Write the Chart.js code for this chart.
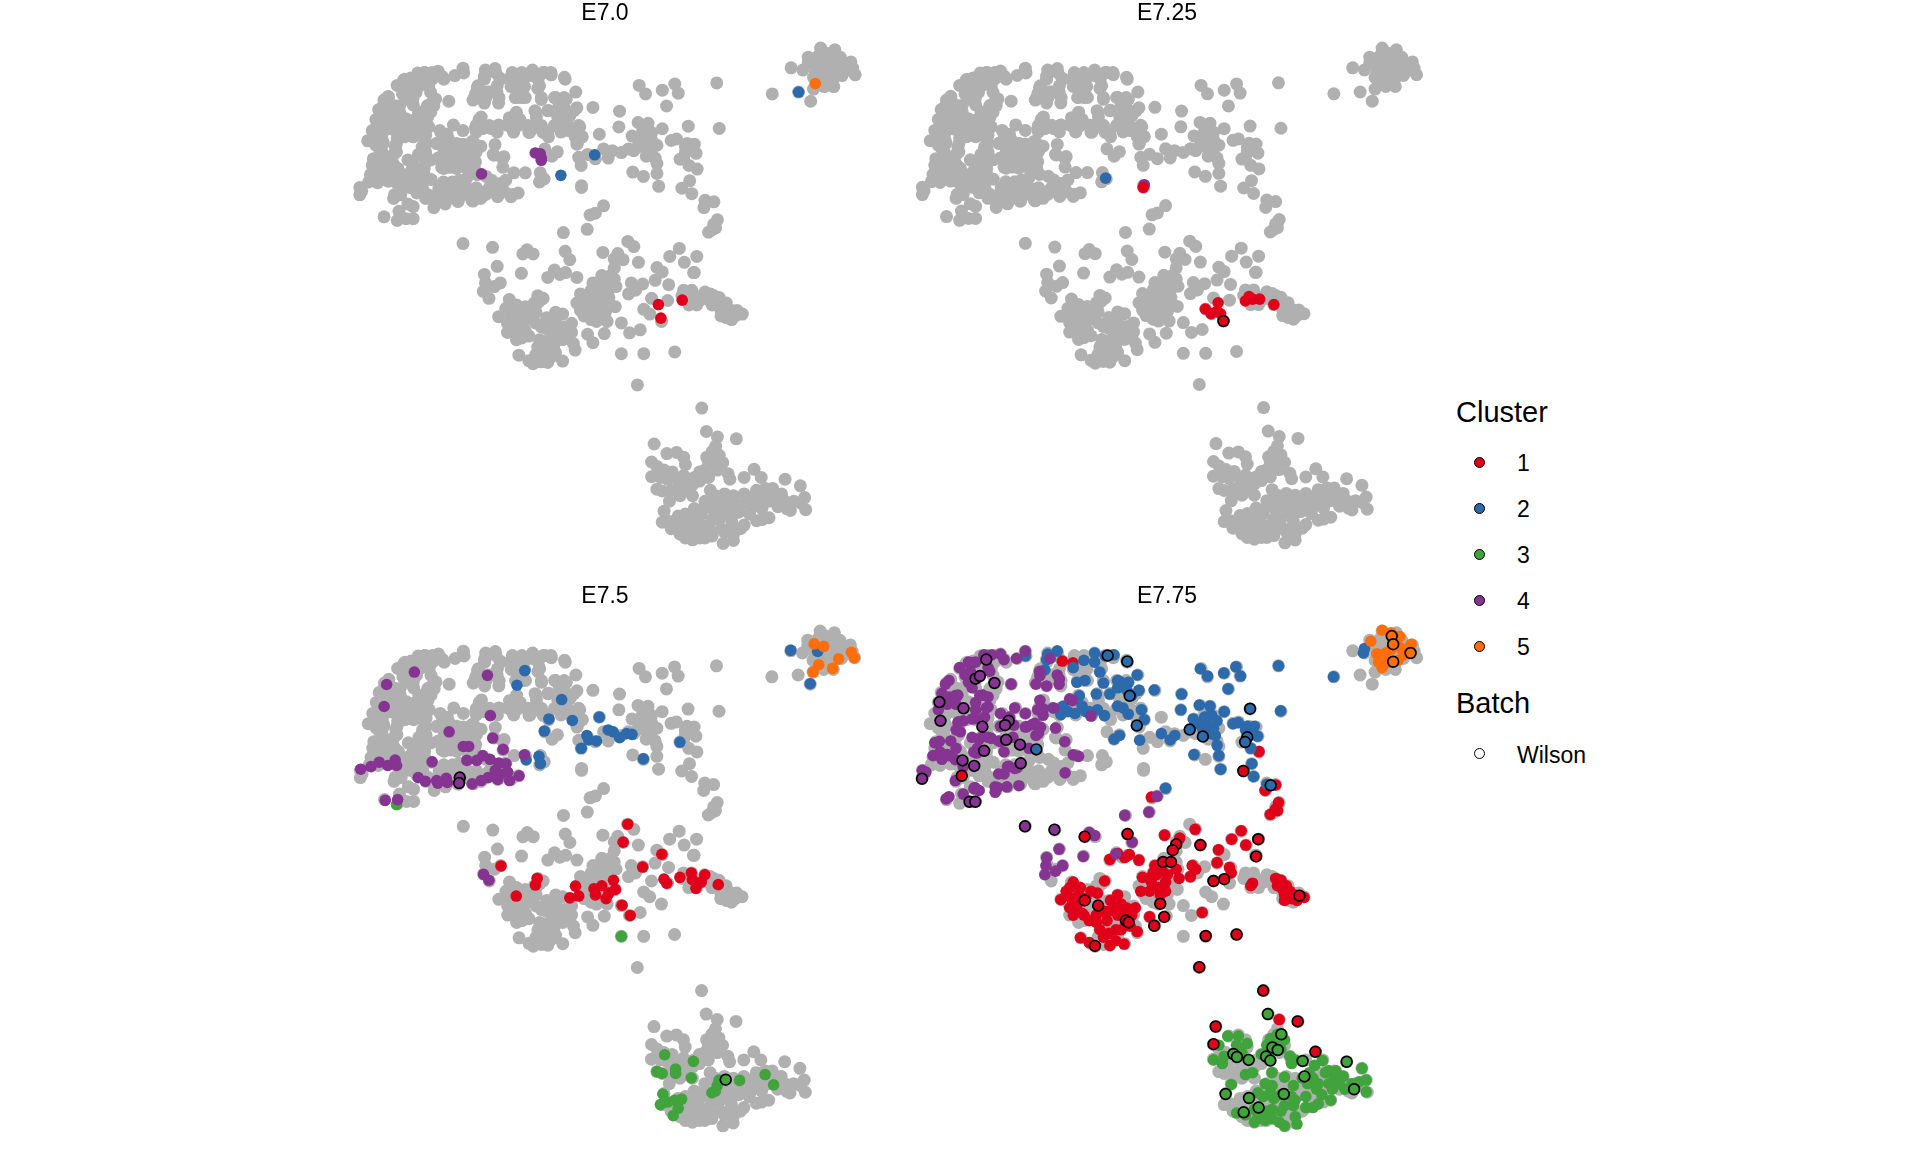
<!DOCTYPE html>
<html>
<head>
<meta charset="utf-8">
<title>Cluster by stage</title>
<script src="https://cdn.jsdelivr.net/npm/chart.js@4"></script>
<style>
  body { margin: 0; background: #fff; }
  #page { position: relative; width: 1920px; height: 1152px; overflow: hidden; font-family: "Liberation Sans", sans-serif; color: #000; }
  canvas { position: absolute; }
  .legendTitle { position: absolute; left: 1456px; font-size: 29px; line-height: 34px; }
  .legendLabel { position: absolute; left: 1517px; font-size: 23px; line-height: 28px; }
  .legendDot { position: absolute; left: 1474px; width: 9px; height: 9px; border: 1.7px solid #000; border-radius: 50%; }
</style>
</head>
<body>
<div id="page"></div>
<script>
//colours
const greyColor = '#b0b0b0'
const clusterColors = ['#e0001a', '#2c6aac', '#40a33c', '#863492', '#ff6e0a']

//legend and panel text
const stages = ['E7.0', 'E7.25', 'E7.5', 'E7.75']
const clusterNames = ['1', '2', '3', '4', '5']
const batchName = 'Wilson'

//all cells, these stay grey in every panel
const allCells = [
  [340,185],[342,198],[317,205],[270,193],[282,208],[232,197],[213,198],[245,206],[193,212],[173,218],[403,190],[430,186],[400,207],[443,212],[473,212],[503,208],[535,190],[565,197],[588,203],[533,205],[625,210],[627,215],
  [155,232],[185,232],[208,226],[235,228],[475,235],[513,235],[380,238],[550,240],[432,248],[657,250],[375,255],[410,250],[510,260],[405,262],[190,255],[170,255],
  [50,510],[50,530],[55,520],[72,383],[90,372],[95,395],[115,385],[105,405],[85,355],[100,345],[95,325],[110,325],[103,298],[125,290],[130,262],[118,272],[135,335],[155,300],[135,350],[150,325],[170,325],[185,340],[205,345],[230,345],[220,325],[240,320],[215,305],[235,300],[245,285],[258,268],[200,285],[185,270],
  [88,432],[105,430],[125,435],[145,447],[120,455],[85,450],[80,475],[100,480],[125,490],[145,480],[170,480],[195,465],[215,465],[190,490],[210,500],[190,510],[170,505],[150,495],[75,495],[100,497],
  [155,375],[175,372],[200,372],[230,375],[150,400],[145,420],[225,400],[215,420],[235,435],[230,455],[200,440],[265,390],[285,395],[300,380],[275,355],[313,340],[340,355],[295,365],[340,392],[365,385],[390,398],[370,410],[375,440],[345,440],[320,440],[295,440],[270,430],[280,455],[305,455],[352,445],[330,490],[310,495],[285,495],[350,485],[380,475],[405,480],[420,490],[440,500],[460,490],[250,488],[270,525],[290,520],[310,525],[340,525],[375,525],[405,520],[430,510],[455,520],[495,525],[475,535],[437,535],[390,540],[365,545],[325,548],[290,555],[258,565],[260,550],[235,540],[210,525],[145,540],[165,530],[200,562],[185,555],[118,590],[155,600],[160,575],[180,595],[200,595],
  [300,275],[368,272],[385,240],[400,280],[440,280],[435,250],[415,250],[490,265],[515,265],[560,270],[600,265],[630,270],[610,285],[580,300],[545,305],[625,295],[660,293],[640,315],[705,292],[385,325],[375,348],[395,350],[420,350],[440,340],[470,320],[490,305],[500,325],[465,340],[482,358],[525,360],[545,345],[565,360],[580,372],[605,335],[615,345],[635,355],[655,372],[668,345],[675,372],[660,392],[723,365],[430,393],[425,420],[452,432],[452,455],[483,470],[515,470],[557,470],[568,487],[555,495],[605,413],[590,425],[570,405],[665,428],[672,450],[673,505],[673,510],[690,420],[712,432],[735,405],[748,430],[760,410],[785,415],[805,405],[815,370],[830,400],[850,370],[870,380],[885,395],[855,425],[845,390],[880,430],[885,445],[885,472],[900,350],[832,333],[860,335],[780,302],[778,345],[835,232],[853,255],[900,245],[935,228],[945,253],[912,288],[1053,225],[1060,349],[973,343],[925,382],[940,378],[970,390],[990,392],[965,415],[995,417],[950,433],[975,450],[998,460],[817,468],[847,480],[890,507],[977,492],[955,512],[983,527],[1020,545],[1045,549],[1017,565],[1055,598],[1050,620],[1030,632],[1040,625],[735,560],[712,580],[697,585],[689,624],[622,633],[340,663],[423,673],
  [520,680],[508,691],[537,691],[627,684],[640,707],[733,687],[775,690],[790,707],[765,705],[803,657],[820,671],[833,714],[921,698],[948,676],[962,714],[997,698],[988,742],[990,742],[885,728],[900,740],[880,763],[918,775],[845,773],[813,770],[825,790],[805,800],[870,812],[915,818],[848,842],[865,855],[898,875],[785,879],[838,898],[808,906],[737,908],[690,910],[705,933],[785,963],[848,963],[935,958],[830,1048],[436,725],[504,744],[400,747],[403,770],[445,770],[428,780],[397,793],[413,812],[578,755],[597,735],[628,742],[612,747],[660,755],[765,730],[755,750],[730,750],[770,780],[748,792],[705,770],[720,790],[695,800],[670,800],[660,825],[685,825],[710,815],[735,825],[768,835],[695,850],[725,855],[745,875],[715,875],[975,800],[983,790],[955,805],[1020,795],[1045,805],[975,830],[997,830],[1030,815],[1055,825],[1080,825],[1065,845],[1085,865],[1105,860],[1125,855],[1110,845],[1080,865],
  [550,805],[565,812],[470,815],[490,830],[515,835],[540,825],[545,850],[460,840],[440,862],[475,860],[465,880],[465,905],[490,925],[500,880],[515,860],[515,900],[525,915],[545,880],[575,865],[600,850],[590,880],[620,855],[645,880],[625,890],[605,895],[575,895],[620,925],[650,935],[655,953],[595,942],[570,930],[550,945],[570,960],[545,965],[590,970],[497,967],[525,982],[537,990],[578,987],[620,983],
  [1011,1111],[1024,1175],[1055,1190],[1108,1195],[877,1209],[913,1235],[940,1232],[960,1245],[965,1265],[1050,1215],[1060,1240],[1025,1245],[1045,1265],[1070,1260],[870,1258],[885,1270],[905,1280],[870,1298],[928,1285],[945,1305],[975,1305],[1005,1285],[1030,1300],[1085,1290],[1090,1305],[1130,1300],[1158,1278],[1178,1300],[1245,1305],[1288,1323],[885,1332],[900,1337],[940,1330],[965,1335],[985,1350],[1035,1335],[1075,1345],[1130,1345],[1165,1335],[1190,1330],[1210,1330],[1235,1345],[1300,1355],[1270,1365],[1225,1380],[1260,1390],[1303,1388],[920,1365],[1020,1365],[1060,1365],[1090,1365],[1130,1370],[1165,1375],[1200,1365],[1200,1410],[1165,1418],[905,1392],[900,1422],[945,1405],[925,1440],[990,1385],[1010,1400],[1045,1390],[1075,1385],[1100,1385],[1130,1430],[1095,1420],[1060,1415],[1090,1440],[1030,1430],[965,1420],[985,1440],[950,1455],[985,1470],[1020,1465],[1040,1460],[1010,1445],[1071,1480],[1100,1472],[1100,1455],[975,1445],[1035,1445],
  [1345,130],[1385,135],[1310,155],[1340,150],[1365,145],[1400,155],[1430,168],[1262,184],[1295,190],[1330,175],[1360,170],[1385,170],[1410,175],[1435,185],[1442,203],[1405,205],[1380,195],[1350,200],[1330,195],[1380,215],[1335,225],[1355,235],[1382,235],[1325,242],[1283,250],[1209,255],[1317,275],
  //upper left, read again from a closer crop
  [231,197],[253,197],[404,197],[432,197],[478,197],[505,197],[537,197],[569,197],[587,197],[176,215],[203,215],[231,215],[253,215],[286,215],[162,233],[189,233],[217,233],[244,233],[185,251],[208,251],[249,251],[130,269],[185,269],[199,269],[263,269],[116,287],[148,287],[162,287],[240,287],[258,287],[112,305],[135,305],[162,305],[221,305],[249,305],[103,323],[130,323],[153,323],[180,323],[208,323],[235,323],[98,345],[125,345],[162,345],[199,345],[221,345],[244,345],[89,368],[112,368],[157,368],[185,368],[208,368],[235,368],[281,368],[116,390],[153,390],[235,390],[267,390],[295,390],[322,390],[372,390],[112,413],[153,413],[235,413],[286,413],[313,413],[340,413],[377,413],[98,435],[139,435],[185,435],[249,435],[276,435],[304,435],[331,435],[359,435],[93,458],[125,458],[157,458],[199,458],[231,458],[286,458],[322,458],[350,458],[372,458],[84,475],[112,475],[139,475],[171,475],[203,475],[231,475],[98,493],[130,493],[162,493],[194,493],[221,493],[167,511],[199,511],[226,511],[272,511],[295,511],[322,511],[350,511],[377,511],[414,511],[446,511],[148,529],[240,529],[267,529],[304,529],[340,529],[377,529],[404,529],[441,529],[478,529],[263,547],[290,547],[327,547],[368,547],
  [400,215],[446,215],[478,215],[510,215],[551,215],[382,233],[436,233],[491,233],[555,233],[510,233],[372,265],[404,265],[441,265],[487,265],[505,265],[560,265],[597,265],[624,265],[542,301],[578,301],[615,301],[652,301],[391,318],[487,318],[546,318],[606,318],[633,318],[377,341],[414,341],[441,341],[468,341],[496,341],[523,341],[560,341],[597,341],[633,341],[665,341],[377,359],[436,359],[482,359],[528,359],[578,359],[615,359],[652,359],[661,390],[674,372],[427,422],[455,426],
  //lower cluster fill
  [720,770],[745,770],[735,800],[750,810],[700,790],[715,840],[740,850],[680,860],[670,845],[700,870],[755,760],[765,760],[475,835],[500,850],[525,860],[490,855],[480,885],[490,905],[510,880],[505,920],[555,925],[590,920],[610,910],[635,910],[560,890],[600,870],[570,950],[600,960],[560,985],[645,905],[555,820],[545,830],[1060,810],[1075,840],[1095,845],[1065,860],[1095,870],[1035,800],[1000,810],[960,790],[1010,815],[1040,830],
  //bottom cluster fill
  [1040,1230],[1030,1260],[1055,1250],[1055,1280],[895,1300],[915,1305],[960,1295],[990,1300],[1015,1300],[1020,1280],[960,1320],[985,1320],[1005,1310],[950,1350],[925,1335],[1045,1365],[1030,1380],[1050,1350],[1075,1365],[1100,1350],[1110,1375],[1140,1355],[1150,1385],[1180,1355],[1210,1350],[1180,1385],[1215,1365],[1245,1365],[1250,1385],[1290,1370],[1115,1395],[1145,1400],[1180,1415],[1085,1400],[1040,1415],[1000,1420],[985,1405],[965,1400],[940,1425],[920,1420],[950,1435],[1005,1465],[1065,1440],[1075,1450],[1120,1440],[965,1465],[1000,1390],[1160,1360],
  //top right and right band fill
  [1375,150],[1350,165],[1375,175],[1395,185],[1420,190],[1360,190],[1345,185],[1320,170],[1360,215],[1400,190],[1345,215],[1365,225],[1325,210],[1310,170],[860,395],[870,405],[835,385],[860,410],[820,410],[870,360],[845,355],[965,400],[985,405],[1045,610],[960,430]
]

//E7.0
const e70Red = [[889,829],[956,817],[896,866]]
const e70Blue = [[710,421],[615,477],[1283,250]]
const e70Green = []
const e70Purple = [[543,416],[557,418],[560,430],[560,436],[392,473]]
const e70Orange = [[1330,227]]

//E7.25
const e725Red = [[672,510],[847,842],[863,855],[883,825],[880,848],[890,855],[960,820],[970,808],[980,815],[1000,815],[1040,830]]
const e725Blue = [[566,485]]
const e725Green = []
const e725Purple = [[675,503]]
const e725Orange = []
const e725WilsonRed = [[898,875]]

//E7.5
const e75Red = [[803,657],[790,706],[899,739],[845,774],[446,771],[548,805],[543,823],[905,807],[913,818],[950,802],[982,790],[985,808],[1020,795],[1010,815],[995,832],[1058,822],[489,853],[656,826],[640,858],[665,853],[708,833],[712,850],[730,825],[763,810],[768,835],[750,845],[742,860],[787,878],[810,906]]
const e75Blue = [[513,238],[491,278],[617,317],[581,370],[647,374],[723,365],[568,403],[688,415],[693,427],[715,430],[748,400],[762,405],[780,421],[800,410],[815,412],[672,450],[950,433],[847,479],[553,472],[517,482],[557,492],[1262,183],[1338,186],[1317,274]]
const e75Green = [[152,604],[785,963],[907,1286],[988,1304],[885,1332],[900,1337],[938,1325],[938,1337],[982,1349],[1118,1356],[1190,1340],[1214,1368],[1060,1355],[1055,1370],[1040,1390],[1050,1385],[902,1393],[895,1422],[915,1415],[935,1410],[955,1407],[945,1432],[931,1452]]
const e75Purple = [[202,242],[124,276],[408,251],[117,336],[416,361],[300,405],[423,422],[452,453],[340,445],[355,445],[512,468],[252,487],[51,507],[80,500],[103,488],[127,497],[148,482],[152,497],[213,530],[233,540],[265,538],[268,545],[292,532],[295,543],[350,483],[378,483],[395,470],[415,480],[440,490],[460,492],[430,510],[445,520],[465,515],[497,525],[470,538],[437,535],[410,530],[390,538],[365,547],[120,592],[155,590],[397,794],[412,810]]
const e75Orange = [[1328,165],[1355,172],[1433,188],[1441,203],[1397,206],[1341,222],[1380,232],[1325,242]]
const e75WilsonPurple = [[330,530],[328,545]]
const e75WilsonGreen = [[1079,1354]]

//E7.75
const e775Red = [[444,212],[474,217],[998,459],[1045,550],[1015,565],[695,583],[1053,598],[1045,615],[1030,630],[1050,620],[818,671],[948,675],[921,698],[961,714],[732,687],[775,695],[884,727],[880,762],[915,775],[920,790],[810,770],[820,780],[805,800],[765,780],[773,805],[740,795],[705,770],[710,795],[670,802],[665,840],[690,840],[715,830],[735,815],[695,815],[578,753],[600,737],[620,748],[633,740],[660,755],[563,812],[475,815],[495,830],[455,840],[440,863],[470,860],[465,885],[475,905],[505,905],[525,840],[543,845],[573,895],[600,850],[580,865],[610,875],[650,885],[625,885],[600,905],[540,925],[570,920],[595,945],[550,945],[575,955],[655,950],[635,935],[495,967],[520,980],[578,988],[618,984],[595,975],[690,910],[838,898],[975,825],[980,818],[1045,805],[1050,825],[1075,825],[1070,850],[1090,860],[1125,857],[1105,865],[1070,865],[1055,1190],
  [490,850],[510,860],[465,830],[485,880],[500,900],[520,920],[540,905],[560,895],[595,890],[620,905],[600,885],[560,965],[610,945],[640,905],[700,790],[725,780],[690,805],[720,850],[735,840],[1060,810],[1085,840],[1100,850],[1065,835]]
const e775Blue = [[340,198],[403,193],[430,185],[400,208],[395,236],[475,230],[505,210],[535,190],[535,215],[550,242],[590,195],[565,198],[485,270],[508,265],[560,272],[600,265],[630,270],[625,290],[655,250],[660,292],[703,291],[492,307],[540,302],[578,302],[600,335],[615,340],[630,357],[667,345],[675,372],[780,302],[778,345],[833,233],[853,253],[899,245],[933,228],[946,253],[911,288],[1053,225],[1059,348],[1208,255],[1292,190],[1295,178],[830,332],[860,335],[900,350],[813,370],[845,365],[865,360],[880,375],[850,385],[865,400],[875,415],[925,383],[940,380],[965,390],[985,390],[994,417],[975,450],[880,442],[885,470],[815,467],[890,507],[978,492],[983,527],[418,340],[447,335],[440,358],[480,355],[500,335],[510,350],[543,345],[563,361],[605,415],[590,425],[662,428],[723,410],[748,427],[761,415],[735,559],[1020,548],
  [830,385],[850,365],[840,400],[860,410],[870,395],[975,405],[960,400],[600,285],[640,305],[610,270],[520,350],[460,350]]
const e775Green = [[910,1235],[940,1235],[965,1255],[885,1260],[870,1300],[900,1290],[950,1280],[1005,1285],[1030,1242],[1050,1230],[1070,1245],[1085,1290],[1090,1310],[1177,1302],[1155,1315],[1288,1323],[1195,1330],[1035,1335],[1070,1347],[1140,1335],[960,1340],[980,1335],[920,1367],[1015,1365],[1035,1370],[995,1390],[1135,1365],[1165,1365],[1210,1350],[1235,1345],[1300,1355],[1280,1360],[1205,1380],[1300,1387],[1240,1380],[1200,1410],[1165,1420],[1130,1430],[1095,1425],[1040,1405],[1010,1400],[1070,1425],[1035,1435],[995,1455],[935,1445],[1015,1465],[985,1470],[1035,1460],[1100,1455],[1070,1480],[1105,1475],[1160,1380],
  [1020,1260],[1045,1260],[1025,1280],[1060,1270],[1100,1300],[1120,1350],[1150,1350],[1185,1335],[1215,1330],[1225,1365],[1195,1365],[1260,1365],[1095,1370],[1060,1395],[1030,1390],[1090,1400],[1100,1410],[1060,1440],[1055,1470],[1020,1440],[985,1435],[960,1450],[1130,1400],[1150,1430],[1175,1395],[895,1310],[935,1260]]
const e775Purple = [[340,185],[315,205],[270,193],[280,208],[245,195],[223,195],[200,215],[180,215],[155,230],[235,230],[185,240],[170,250],[125,265],[115,275],[180,270],[190,285],[240,240],[300,275],[370,275],[380,240],[400,280],[430,250],[435,275],[410,205],[105,300],[125,310],[150,305],[120,330],[145,330],[95,345],[200,325],[220,305],[235,310],[200,345],[230,340],[225,365],[165,375],[190,370],[150,380],[145,400],[130,430],[85,435],[100,460],[80,470],[105,480],[125,470],[145,450],[190,420],[210,425],[235,420],[195,460],[205,450],[165,500],[270,355],[310,340],[340,355],[375,345],[390,360],[295,365],[270,390],[340,392],[360,385],[383,392],[425,395],[370,415],[265,430],[280,460],[305,420],[350,450],[290,500],[265,520],[310,505],[280,520],[255,555],[255,570],[288,555],[322,552],[143,538],[60,515],[50,510],[195,560],[210,565],[165,575],[117,588],[620,633],[688,624],[711,581],[535,688],[520,680],[641,706],[595,738],[435,725],[503,745],[400,748],[398,770],[425,785],[445,770],[395,795],[451,432],[475,468],[490,472],[452,517],[473,320],[420,340],[525,362],[465,315],
  [189,216],[226,203],[185,243],[143,306],[212,306],[235,337],[198,369],[152,378],[157,405],[98,431],[120,467],[102,472],[143,481],[203,463],[221,418],[244,423],[271,432],[308,387],[345,391],[367,382],[377,409],[390,342],[381,319],[436,261],[381,252],[294,499],[317,503],[262,557],[125,582],[198,557]]
const e775Orange = [[1345,128],[1313,158],[1370,135],[1395,145],[1427,166],[1330,192],[1355,190],[1395,175],[1405,195],[1390,210],[1345,230],[1360,215],[1335,215],[1415,180],[1370,180]]
const e775WilsonRed = [[161,525],[507,691],[628,684],[765,712],[755,728],[833,714],[996,698],[990,745],[728,760],[750,760],[870,812],[900,807],[507,865],[545,879],[720,874],[623,920],[631,925],[731,910],[703,934],[536,989],[848,962],[935,958],[830,1047],[1010,1111],[876,1209],[1107,1195],[870,1257],[1157,1278],[954,512],[1112,852]]
const e775WilsonBlue = [[371,453],[572,197],[627,213],[634,307],[654,388],[803,399],[840,418],[973,342],[965,420],[959,433],[1031,551]]
const e775WilsonGreen = [[1023,1175],[1061,1230],[1036,1266],[1051,1273],[926,1284],[936,1292],[969,1300],[1018,1291],[1030,1302],[1121,1303],[1245,1305],[1126,1345],[1266,1380],[904,1393],[970,1404],[1068,1393],[997,1430],[955,1443]]
const e775WilsonPurple = [[230,208],[200,260],[212,253],[253,272],[98,324],[166,341],[101,375],[219,391],[293,375],[283,387],[286,427],[325,440],[224,457],[163,483],[196,498],[327,491],[49,533],[183,596],[199,596],[339,663],[422,672]]
const e775WilsonOrange = [[1372,144],[1376,166],[1376,214],[1425,190]]

//the four panels, filled cells per cluster then the Wilson cells
const filledByStage = [
  [e70Red, e70Blue, e70Green, e70Purple, e70Orange],
  [e725Purple, e725Red, e725Blue, e725Green, e725Orange],
  [e75Red, e75Blue, e75Green, e75Purple, e75Orange],
  [e775Red, e775Blue, e775Green, e775Purple, e775Orange]
]
const filledColors = [
  clusterColors,
  [clusterColors[3], clusterColors[0], clusterColors[1], clusterColors[2], clusterColors[4]],
  clusterColors,
  clusterColors
]
const wilsonByStage = [
  [],
  [[e725WilsonRed, clusterColors[0]]],
  [[e75WilsonPurple, clusterColors[3]], [e75WilsonGreen, clusterColors[2]]],
  [[e775WilsonPurple, clusterColors[3]], [e775WilsonBlue, clusterColors[1]], [e775WilsonRed, clusterColors[0]], [e775WilsonGreen, clusterColors[2]], [e775WilsonOrange, clusterColors[4]]]
]

const page = document.getElementById('page')
const panelLeft = [325, 887, 325, 887]
const panelTop = [0, 0, 583, 583]

function toPoints(list) {
  return list.map(p => ({ x: p[0], y: p[1] }))
}

function dots(list, color) {
  return { data: toPoints(list), backgroundColor: color, borderWidth: 0, pointRadius: 5.8, clip: false }
}

stages.forEach((stage, i) => {
  const canvas = document.createElement('canvas')
  canvas.width = 560
  canvas.height = 569
  canvas.style.left = panelLeft[i] + 'px'
  canvas.style.top = panelTop[i] + 'px'
  page.appendChild(canvas)

  const datasets = [{ data: toPoints(allCells), backgroundColor: greyColor, borderWidth: 0, pointRadius: 6.5, clip: false }]
  filledByStage[i].forEach((list, c) => datasets.push(dots(list, filledColors[i][c])))
  wilsonByStage[i].forEach(w => {
    datasets.push({ data: toPoints(w[0]), backgroundColor: w[1], borderColor: '#000', borderWidth: 1.7, pointRadius: 5.4, clip: false })
  })
  //chart.js paints the first dataset on top, so the grey has to go last
  datasets.reverse()

  new Chart(canvas.getContext('2d'), {
    type: 'scatter',
    data: { datasets: datasets },
    options: {
      responsive: false,
      animation: false,
      layout: { padding: 0 },
      plugins: {
        legend: { display: false },
        tooltip: { enabled: false },
        title: {
          display: true,
          text: stage,
          color: '#000',
          padding: { top: 2, bottom: 0 },
          font: { family: '"Liberation Sans"', size: 23, weight: 'normal', lineHeight: 1 }
        }
      },
      scales: {
        x: { display: false, min: -29.6, max: 1507.6 },
        y: { display: false, reverse: true, min: 67.3, max: 1531.9 }
      }
    }
  })
})

//legend on the right
function addText(cls, text, top) {
  const el = document.createElement('div')
  el.className = cls
  el.textContent = text
  el.style.top = top + 'px'
  page.appendChild(el)
}

function addDot(color, center) {
  const el = document.createElement('div')
  el.className = 'legendDot'
  el.style.background = color
  el.style.top = (center - 5.2) + 'px'
  page.appendChild(el)
}

addText('legendTitle', 'Cluster', 395)
clusterNames.forEach((name, i) => {
  const center = 462 + i * 46
  addDot(clusterColors[i], center)
  addText('legendLabel', name, center - 13)
})
addText('legendTitle', 'Batch', 686)
addDot('#fff', 753)
addText('legendLabel', batchName, 741)
</script>
</body>
</html>
